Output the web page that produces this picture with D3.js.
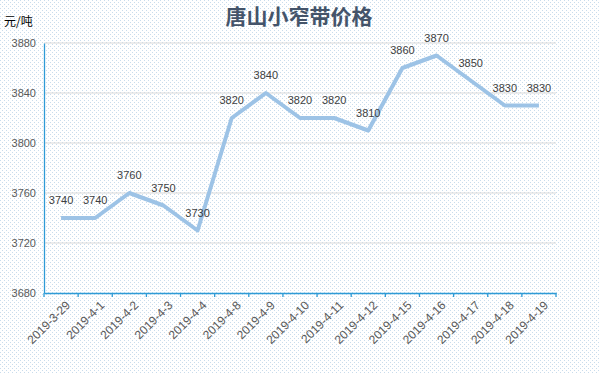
<!DOCTYPE html>
<html>
<head>
<meta charset="utf-8">
<script src="https://cdn.jsdelivr.net/npm/d3@7"></script>
<style>
  body { margin: 0; background: #fff; }
  svg { display: block; font-family: "Liberation Sans", "Noto Sans CJK SC", sans-serif; }
</style>
</head>
<body>
<svg id="chart" width="600" height="374"></svg>
<script>
// данные
var categories = ["2019-3-29", "2019-4-1", "2019-4-2", "2019-4-3", "2019-4-4", "2019-4-8", "2019-4-9",
  "2019-4-10", "2019-4-11", "2019-4-12", "2019-4-15", "2019-4-16", "2019-4-17", "2019-4-18", "2019-4-19"];
var prices = [3740, 3740, 3760, 3750, 3730, 3820, 3840, 3820, 3820, 3810, 3860, 3870, 3850, 3830, 3830];
var yTicks = [3680, 3720, 3760, 3800, 3840, 3880];

var svg = d3.select("#chart");
var W = 600, H = 374;
var m = { left: 44, right: 44, top: 43, bottom: 81 };

// фон в точку
var pat = svg.append("defs").append("pattern")
  .attr("id", "dots").attr("width", 4).attr("height", 4)
  .attr("patternUnits", "userSpaceOnUse");
pat.append("rect").attr("width", 4).attr("height", 4).attr("fill", "#ffffff");
pat.append("rect").attr("x", 0).attr("y", 0).attr("width", 1).attr("height", 1).attr("fill", "#c9dcec");
pat.append("rect").attr("x", 2).attr("y", 2).attr("width", 1).attr("height", 1).attr("fill", "#c9dcec");
svg.append("rect").attr("width", W).attr("height", H).attr("fill", "url(#dots)");

var x = d3.scaleBand().domain(categories).range([m.left, W - m.right]);
var y = d3.scaleLinear().domain([3680, 3880]).range([H - m.bottom, m.top]);

// сетка
svg.append("g").selectAll("line")
  .data(yTicks.slice(1))
  .join("line")
  .attr("x1", m.left).attr("x2", W - m.right)
  .attr("y1", d => y(d)).attr("y2", d => y(d))
  .attr("stroke", "#d9d9d9").attr("stroke-width", 1);

// ось y
var gy = svg.append("g")
  .attr("transform", `translate(${m.left},0)`)
  .call(d3.axisLeft(y).tickValues(yTicks).tickFormat(d3.format("d")).tickSize(0).tickPadding(8));
gy.select(".domain").attr("stroke", "#2e9bd6").attr("stroke-width", 1.3);
gy.selectAll("text").attr("fill", "#595959").style("font-size", "11px");

// ось x
var gx = svg.append("g")
  .attr("transform", `translate(0,${H - m.bottom})`)
  .call(d3.axisBottom(x).tickSize(0));
gx.select(".domain").attr("stroke", "#2e9bd6").attr("stroke-width", 1.3);
gx.selectAll(".tick line").remove();
gx.append("g").selectAll("line")
  .data(d3.range(categories.length + 1))
  .join("line")
  .attr("x1", i => m.left + i * x.step()).attr("x2", i => m.left + i * x.step())
  .attr("y1", 0).attr("y2", 4)
  .attr("stroke", "#2e9bd6").attr("stroke-width", 1.3);
gx.selectAll(".tick text")
  .attr("fill", "#595959").style("font-size", "12px")
  .attr("text-anchor", "end")
  .attr("transform", "translate(7,10) rotate(-45)")
  .attr("dy", "0.35em").attr("y", 0).attr("x", 0);

// линия
var cx = d => x(d) + x.bandwidth() / 2;
svg.append("path")
  .datum(prices)
  .attr("fill", "none")
  .attr("stroke", "#9dc3e6")
  .attr("stroke-width", 4)
  .attr("stroke-linejoin", "round")
  .attr("d", d3.line().x((d, i) => cx(categories[i])).y(d => y(d)));

// подписи
svg.append("g").selectAll("text")
  .data(prices)
  .join("text")
  .attr("x", (d, i) => cx(categories[i]))
  .attr("y", d => y(d) - 14)
  .attr("text-anchor", "middle")
  .attr("fill", "#404040").style("font-size", "11px")
  .text(d => d);

// заголовок
svg.append("text")
  .attr("x", 299).attr("y", 24)
  .attr("text-anchor", "middle")
  .attr("fill", "#44546a")
  .style("font-size", "21px").style("font-weight", "bold")
  .style("font-family", "'Noto Sans CJK SC', sans-serif")
  .text("唐山小窄带价格");

svg.append("text")
  .attr("x", 4).attr("y", 26)
  .attr("fill", "#000")
  .style("font-size", "12px")
  .style("font-family", "'Noto Sans CJK SC', sans-serif")
  .text("元/吨");
</script>
</body>
</html>
